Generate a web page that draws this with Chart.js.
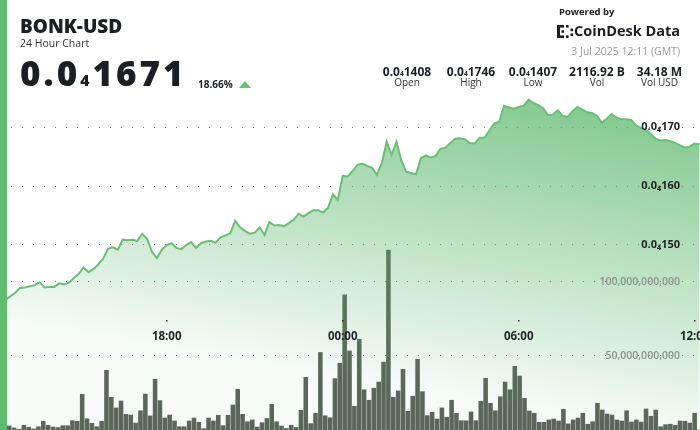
<!DOCTYPE html>
<html>
<head>
<meta charset="utf-8">
<script src="https://cdn.jsdelivr.net/npm/chart.js@4.4.1/dist/chart.umd.min.js"></script>
<style>
  html, body { margin: 0; padding: 0; background: #fff; }
  #wrap { position: relative; width: 700px; height: 430px; overflow: hidden;
          font-family: "Open Sans", "Noto Sans", sans-serif; color: #1b1f24; }
  #chart { position: absolute; left: 0; top: 0; }
  .stripe { position: absolute; left: 0; top: 0; width: 7px; height: 430px; background: #60bd6f; }
  .t { position: absolute; line-height: 1; white-space: nowrap; }
  .sub { font-size: 0.45em; }
  .stat { position: absolute; width: 90px; text-align: center; line-height: 1; white-space: nowrap; }
  .stat .v { font-size: 12px; font-weight: 700; color: #1b1f24; }
  .stat .l { position: absolute; left: 0; width: 90px; top: 15.4px; font-size: 10px; color: #333; }
  .tri { position: absolute; left: 239px; top: 81px; width: 0; height: 0;
         border-left: 6px solid transparent; border-right: 6px solid transparent;
         border-bottom: 7px solid #6cc17a; }
</style>
</head>
<body>
<div id="wrap">
  <canvas id="chart" width="700" height="430"></canvas>
  <div class="stripe"></div>

  <div class="t" style="left:20px; top:17.4px; font-size:19px; font-weight:800;">BONK-USD</div>
  <div class="t" style="left:20px; top:37.5px; font-size:10.5px; color:#333;">24 Hour Chart</div>
  <div class="t" style="left:20px; top:54.9px; font-size:35px; font-weight:800; letter-spacing:3px;">0.0<span class="sub">4</span>1671</div>
  <div class="t" style="left:198px; top:79px; font-size:10px; font-weight:700;">18.66%</div>
  <div class="tri"></div>

  <div class="t" style="left:559px; top:6.6px; font-size:9.5px; font-weight:700; color:#222;">Powered by</div>
  <svg style="position:absolute; left:557px; top:25px;" width="18" height="13" viewBox="0 0 18 13">
    <g fill="#1b1f24">
      <rect x="0" y="0" width="3" height="13"/>
      <rect x="0" y="0" width="7" height="2.6"/>
      <rect x="0" y="10.4" width="7" height="2.6"/>
      <rect x="4.5" y="5.2" width="2.6" height="2.6"/>
      <rect x="9" y="0" width="2.6" height="2.6"/>
      <rect x="9" y="10.4" width="2.6" height="2.6"/>
      <rect x="13.5" y="3.6" width="2.6" height="2.6"/>
      <rect x="13.5" y="8.4" width="2.6" height="2.6"/>
    </g>
  </svg>
  <div class="t" style="right:20px; top:23.5px; font-size:14.5px; font-weight:700; color:#1b1f24;">CoinDesk Data</div>
  <div class="t" style="right:20px; top:45.5px; font-size:10.5px; color:#9a9a9a;">3 Jul 2025 12:11 (GMT)</div>

  <div id="stats"></div>
</div>

<script>
// 10-minute steps, minutes relative to 00:00 on 3 Jul (70 steps back = 12:20 on 2 Jul)
const times = []
for (let k = 0; k < 144; k++) times.push((k - 70) * 10)

const timeLabels = times.map((m) => {
  const t = (m + 1440) % 1440
  return String(Math.floor(t / 60)).padStart(2, "0") + ":" + String(t % 60).padStart(2, "0")
})

// price in units of 1e-7 USD (0.0₄1671 = 167.1)
const prices = [
  140.8, 140.7, 141.3, 141.9, 142.7, 142.8, 143.0, 143.2, 143.7, 142.8,
  142.9, 142.9, 143.5, 143.3, 143.6, 144.4, 145.1, 146.2, 145.4, 145.9,
  146.7, 147.7, 149.4, 149.6, 149.2, 150.9, 150.8, 150.9, 150.7, 151.9,
  151.0, 148.8, 147.8, 149.2, 150.0, 150.3, 149.5, 149.3, 150.0, 150.5,
  149.5, 150.3, 150.6, 150.7, 150.4, 151.3, 151.6, 152.0, 154.1, 153.0,
  152.4, 151.9, 152.1, 153.0, 151.7, 153.9, 153.3, 153.4, 153.2, 153.7,
  154.3, 155.3, 154.8, 155.4, 155.9, 155.9, 155.5, 156.3, 158.6, 157.6,
  161.7, 161.6, 162.5, 163.6, 163.8, 163.4, 163.1, 161.9, 163.9, 167.5,
  165.3, 167.5, 164.3, 162.4, 162.2, 162.0, 164.7, 165.2, 164.8, 165.1,
  166.3, 166.5, 167.3, 168.0, 168.1, 167.9, 167.3, 167.2, 168.2, 168.2,
  169.4, 170.6, 170.9, 173.6, 173.3, 173.1, 173.4, 173.6, 174.6, 174.1,
  173.7, 173.2, 172.0, 172.1, 172.8, 171.9, 171.7, 172.7, 173.4, 173.0,
  172.5, 172.4, 171.9, 170.7, 171.4, 172.2, 171.6, 171.3, 171.3, 171.2,
  170.3, 169.8, 169.5, 168.8, 168.0, 167.7, 167.8, 167.6, 167.3, 166.9,
  166.5, 166.7, 167.2, 167.1,
]

// volume in billions of BONK
const volumes = [
  2.0, 2.7, 1.4, 0.5, 3.2, 1.8, 0.7, 2.2, 5.9, 3.2,
  2.0, 1.6, 2.9, 2.9, 6.3, 5.9, 24.1, 7.6, 4.5, 2.2,
  5.9, 40.3, 22.1, 14.9, 19.6, 10.6, 10.1, 4.7, 13.0, 24.3,
  9.5, 34.3, 19.8, 8.1, 10.1, 6.1, 2.2, 2.2, 6.1, 8.1,
  5.2, 0.9, 8.1, 6.1, 9.9, 2.9, 9.9, 16.9, 27.5, 10.6,
  5.6, 6.8, 2.0, 4.9, 7.8, 17.4, 5.6, 2.7, 1.0, 3.2,
  1.7, 13.3, 35.6, 4.3, 11.3, 52.4, 9.6, 8.3, 34.7, 45.1,
  91.4, 53.4, 16.0, 61.3, 27.2, 20.1, 28.2, 32.4, 45.9, 121.6,
  22.1, 26.4, 41.0, 12.6, 22.8, 47.8, 25.9, 9.7, 12.0, 7.4,
  14.9, 8.6, 20.1, 11.3, 6.3, 6.2, 12.2, 6.3, 19.4, 34.9,
  18.0, 13.0, 22.5, 32.4, 27.2, 43.0, 36.5, 21.4, 12.8, 11.3,
  5.2, 5.2, 6.8, 7.4, 6.1, 14.0, 4.1, 6.8, 8.1, 11.3,
  3.9, 5.6, 18.0, 13.5, 10.8, 10.1, 6.8, 6.1, 13.0, 5.4,
  6.8, 5.4, 14.2, 9.3, 13.5, 2.2, 3.6, 3.9, 3.2, 6.1,
  5.9, 4.7, 11.3, 0,
]

const priceTicks = [150, 160, 170]
const volumeTicks = [50, 100]
const timeTicks = [-360, 0, 360, 720]
const timeTickLabels = ["18:00", "00:00", "06:00", "12:00"]

const statValues = ["0.0₄1408", "0.0₄1746", "0.0₄1407", "2116.92 B", "34.18 M"]
const statNames = ["Open", "High", "Low", "Vol", "Vol USD"]

// --- stats row ---
const statCenters = [407, 471, 533, 597, 659.5]
const statsEl = document.getElementById("stats")
statValues.forEach((v, i) => {
  const d = document.createElement("div")
  d.className = "stat"
  d.style.left = statCenters[i] - 45 + "px"
  d.style.top = "61.9px"
  const html = v.replace("₄", '<span class="sub" style="font-size:0.55em">4</span>')
  d.innerHTML = '<span class="v">' + html + '</span><div class="l">' + statNames[i] + "</div>"
  statsEl.appendChild(d)
})

const fmtPrice = (t) => "0.0₄" + t
const fmtVol = (t) => (t * 1e9).toLocaleString("en-US")

// labels drawn inside the plot, like the original widget
const labelPlugin = {
  id: "insideLabels",
  afterDraw: (chart) => {
    const { ctx, scales } = chart
    ctx.save()
    ctx.textAlign = "right"
    ctx.textBaseline = "middle"

    ctx.font = '700 11px "Open Sans"'
    ctx.fillStyle = "#1e2226"
    priceTicks.forEach((t) => {
      ctx.fillText(fmtPrice(t), 680, scales.y.getPixelForValue(t))
    })

    ctx.font = '600 10.5px "Open Sans"'
    ctx.fillStyle = "#8a938a"
    volumeTicks.forEach((t) => {
      ctx.fillText(fmtVol(t), 680, scales.yv.getPixelForValue(t))
    })

    ctx.textAlign = "center"
    ctx.font = '700 11.5px "Open Sans"'
    timeTicks.forEach((t, i) => {
      const x = scales.x.getPixelForValue(t)
      ctx.fillStyle = "#333"
      ctx.fillRect(Math.round(x) - 1, 320, 1.5, 1.5)
      ctx.fillStyle = "#1e2226"
      ctx.fillText(timeTickLabels[i], x, 337)
    })
    ctx.restore()
  },
}

const dotGrid = {
  color: "#6f746f",
  lineWidth: 1,
  drawTicks: false,
}

new Chart(document.getElementById("chart"), {
  plugins: [labelPlugin],
  data: {
    labels: timeLabels,
    datasets: [
      {
        type: "line",
        order: 0,
        xAxisID: "x",
        yAxisID: "y",
        data: times.map((t, k) => ({ x: t, y: prices[k] })),
        borderColor: "#6bbd78",
        borderWidth: 2,
        pointRadius: 0,
        tension: 0,
        fill: "start",
        backgroundColor: (c) => {
          const g = c.chart.ctx.createLinearGradient(613, 423, 667, 99)
          g.addColorStop(0, "rgba(92, 184, 108, 0.05)")
          g.addColorStop(1, "rgba(92, 184, 108, 0.8)")
          return g
        },
      },
      {
        type: "bar",
        order: 1,
        xAxisID: "xv",
        yAxisID: "yv",
        data: volumes,
        backgroundColor: "#5b6259",
        borderWidth: 0,
        barThickness: 3.9,
      },
    ],
  },
  options: {
    responsive: false,
    animation: false,
    layout: { padding: 0 },
    plugins: { legend: { display: false }, tooltip: { enabled: false } },
    scales: {
      x: { type: "linear", min: -701, max: 730.8, display: false },
      xv: { type: "category", offset: true, display: false },
      y: {
        position: "right",
        min: 118.64,
        max: 191.53,
        z: 1,
        ticks: { display: false },
        grid: dotGrid,
        border: { display: false, dash: [1, 10] },
        afterBuildTicks: (s) => { s.ticks = priceTicks.map((v) => ({ value: v })) },
      },
      yv: {
        position: "right",
        min: 0,
        max: 290.5,
        z: 1,
        ticks: { display: false },
        grid: dotGrid,
        border: { display: false, dash: [1, 10] },
        afterBuildTicks: (s) => { s.ticks = volumeTicks.map((v) => ({ value: v })) },
      },
    },
  },
})
</script>
</body>
</html>
